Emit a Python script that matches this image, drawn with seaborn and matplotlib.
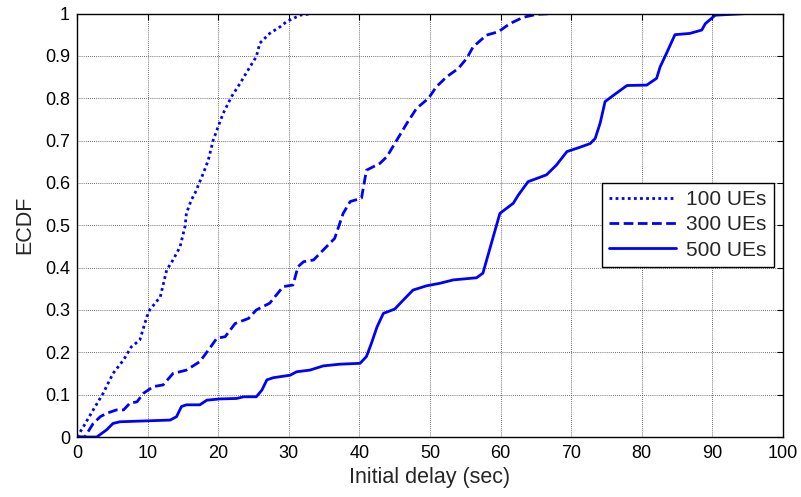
import numpy as np
import pandas as pd
import seaborn as sns
import matplotlib
matplotlib.use("Agg")
import matplotlib.pyplot as plt
from matplotlib.ticker import FuncFormatter

# ECDF of initial delay for three user loads
delay_100 = [0.0, 0.9, 2.3, 3.7, 5.1, 6.6, 7.7, 8.9, 9.9, 10.3, 11.8, 12.7, 13.6, 14.6,
             15.3, 15.5, 16.2, 16.7, 17.9, 18.6, 19.3, 20.0, 20.7, 21.9, 23.1, 24.5,
             25.4, 25.9, 27.3, 28.8, 29.7, 31.6, 33.4, 36.3]
ecdf_100 = [0.0, 0.024, 0.064, 0.103, 0.15, 0.182, 0.213, 0.229, 0.284, 0.30, 0.331,
            0.394, 0.418, 0.449, 0.497, 0.528, 0.56, 0.575, 0.623, 0.654, 0.701, 0.733,
            0.764, 0.804, 0.835, 0.874, 0.898, 0.93, 0.953, 0.969, 0.981, 0.996, 1.0, 1.0]

delay_300 = [0.0, 1.1, 2.3, 3.3, 4.2, 5.6, 6.6, 7.5, 8.5, 9.4, 10.8, 12.2, 13.6, 15.5,
             17.4, 18.6, 19.8, 21.0, 22.4, 24.3, 25.4, 27.3, 29.2, 30.6, 31.3, 32.1,
             33.5, 35.2, 36.5, 37.7, 38.7, 40.3, 41.0, 42.9, 43.9, 45.3, 46.7, 48.1,
             49.8, 50.9, 52.4, 54.0, 55.2, 56.1, 58.0, 59.7, 61.3, 63.2, 65.1, 67.4]
ecdf_300 = [0.0, 0.0, 0.032, 0.048, 0.056, 0.064, 0.064, 0.08, 0.083, 0.103, 0.119,
            0.123, 0.15, 0.158, 0.178, 0.205, 0.233, 0.237, 0.268, 0.28, 0.30, 0.316,
            0.355, 0.359, 0.402, 0.414, 0.418, 0.447, 0.469, 0.528, 0.556, 0.564, 0.63,
            0.646, 0.662, 0.701, 0.74, 0.776, 0.80, 0.827, 0.851, 0.87, 0.894, 0.921,
            0.949, 0.957, 0.976, 0.991, 0.998, 1.0]

delay_500 = [0.0, 2.8, 4.2, 5.1, 6.1, 13.2, 14.1, 14.8, 15.5, 17.4, 18.4, 20.3, 22.6,
             23.6, 25.4, 26.2, 26.9, 27.8, 30.2, 31.1, 33.0, 34.9, 37.3, 40.1, 41.0,
             41.7, 42.5, 43.4, 45.0, 46.2, 47.6, 49.5, 51.4, 53.3, 56.6, 57.5, 58.3,
             59.9, 61.8, 62.5, 63.9, 66.5, 67.9, 69.4, 71.2, 72.7, 73.4, 74.1, 74.8,
             76.0, 77.9, 80.7, 82.1, 82.6, 83.5, 84.7, 86.8, 88.5, 89.0, 90.4, 94.9]
ecdf_500 = [0.0, 0.0, 0.017, 0.032, 0.036, 0.04, 0.048, 0.072, 0.076, 0.076, 0.087,
            0.09, 0.091, 0.095, 0.095, 0.111, 0.135, 0.14, 0.146, 0.154, 0.158, 0.168,
            0.172, 0.174, 0.19, 0.221, 0.26, 0.292, 0.302, 0.323, 0.347, 0.357, 0.363,
            0.371, 0.376, 0.387, 0.434, 0.528, 0.552, 0.571, 0.603, 0.619, 0.642, 0.674,
            0.684, 0.693, 0.705, 0.741, 0.792, 0.807, 0.83, 0.831, 0.847, 0.874, 0.906,
            0.95, 0.953, 0.961, 0.976, 0.996, 1.0]

labels = ["100 UEs", "300 UEs", "500 UEs"]
x_ticks = list(range(0, 101, 10))
y_ticks = [round(0.1 * i, 1) for i in range(11)]

sns.set_style("white")
plt.rcParams["font.family"] = ["Liberation Sans", "DejaVu Sans"]

fig = plt.figure(figsize=(8.01, 4.97), dpi=100)
ax = fig.add_axes([0.0961, 0.1207, 0.8814, 0.8521])

series = [(delay_100, ecdf_100, (0, (1, 1.2))),
          (delay_300, ecdf_300, (0, (3.5, 1.6))),
          (delay_500, ecdf_500, "-")]
for (xs, ys, ls), lab in zip(series, labels):
    df = pd.DataFrame({"delay": xs, "ecdf": ys})
    sns.lineplot(data=df, x="delay", y="ecdf", ax=ax, color="#0000ff",
                 linewidth=2.0, linestyle=ls, estimator=None, sort=False,
                 label=lab)

ax.set_xlim(0, 100)
ax.set_ylim(0, 1)
ax.set_xticks(x_ticks)
ax.set_yticks(y_ticks)
ax.yaxis.set_major_formatter(FuncFormatter(lambda v, p: "%g" % round(v, 1)))
ax.grid(True, color="0.25", linestyle=(0, (1, 1.5)), linewidth=0.6)
ax.set_axisbelow(True)
for s in ax.spines.values():
    s.set_visible(True)
    s.set_color("black")
    s.set_linewidth(1.0)
ax.tick_params(direction="in", length=4, width=0.8, top=True, right=True,
               labelsize=13, colors="black")
ax.tick_params(axis="x", pad=6)
ax.tick_params(axis="y", pad=5)
ax.set_xlabel("Initial delay (sec)", fontsize=15.5, labelpad=3)
ax.set_ylabel("ECDF", fontsize=15.5, labelpad=7)

leg = ax.legend(loc="upper right", bbox_to_anchor=(0.987, 0.60),
                borderaxespad=0, fontsize=15, fancybox=False, framealpha=1,
                edgecolor="black", handlelength=3.2, handletextpad=0.5,
                labelspacing=0.3, borderpad=0.35)
leg.get_frame().set_linewidth(1.0)

fig.savefig("out.png", dpi=100)
